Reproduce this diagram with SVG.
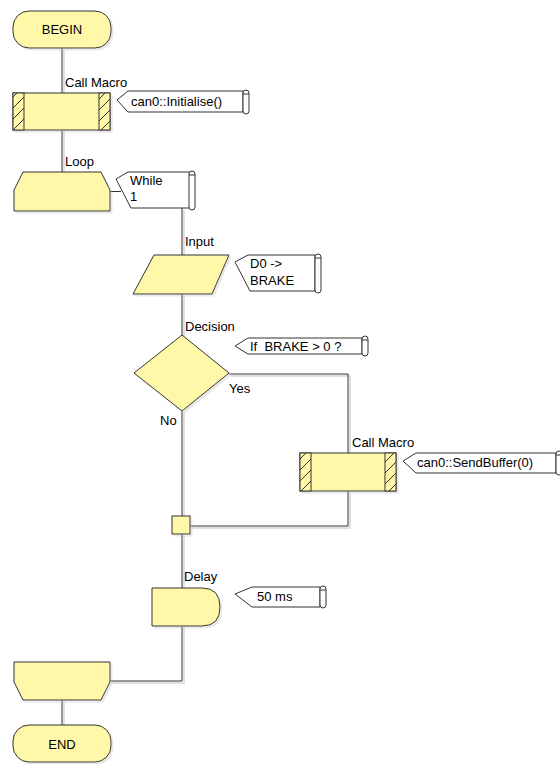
<svg xmlns="http://www.w3.org/2000/svg" width="560" height="764" viewBox="0 0 560 764">
<defs>
<pattern id="hatch" patternUnits="userSpaceOnUse" width="11" height="11" x="0" y="0">
<rect width="11" height="11" fill="#FFF8A8"/>
<path d="M0,11 L11,0" stroke="#333" stroke-width="1"/>
</pattern>
<filter id="sh" x="-10%" y="-10%" width="130%" height="130%">
<feOffset dx="2" dy="2" in="SourceAlpha" result="o"/>
<feColorMatrix in="o" type="matrix" values="0 0 0 0 0.5  0 0 0 0 0.5  0 0 0 0 0.5  0 0 0 0.35 0" result="c"/>
<feMerge><feMergeNode in="c"/><feMergeNode in="SourceGraphic"/></feMerge>
</filter>
</defs>
<style>
.n{fill:#FFF8A8;stroke:#333;stroke-width:1;filter:url(#sh)}
.h{fill:url(#hatch);stroke:#333;stroke-width:1}
.c{fill:#fff;stroke:#333;stroke-width:1}
.ln{fill:none;stroke:#333;stroke-width:1}
.lns{fill:none;stroke:#d6d6d6;stroke-width:1.5}
text{font-family:"Liberation Sans",Arial,sans-serif;font-size:13px;fill:#000}
.m{text-anchor:middle}
</style>
<rect width="560" height="764" fill="#fff"/>

<g id="connectors">
<g class="lns" transform="translate(2,2)">
<path d="M62,48 V93"/><path d="M62,130 V172"/><path d="M182,208 V255"/><path d="M182,294 V336"/>
<path d="M229,374 H348 V453"/><path d="M182,411 V516"/><path d="M348,491 V526 H190"/>
<path d="M182,534 V588"/><path d="M182,626 V681 H110"/><path d="M62,700 V725"/>
</g>
<path class="ln" d="M62,48 V93"/>
<path class="ln" d="M62,130 V172"/>
<path class="ln" d="M110,191.5 H121"/>
<path class="ln" d="M182,208 V255"/>
<path class="ln" d="M182,294 V336"/>
<path class="ln" d="M229,374 H348 V453"/>
<path class="ln" d="M182,411 V516"/>
<path class="ln" d="M348,491 V526 H190"/>
<path class="ln" d="M182,534 V588"/>
<path class="ln" d="M182,626 V681 H110"/>
<path class="ln" d="M62,700 V725"/>
</g>

<g id="begin">
<rect class="n" x="13" y="11" width="98" height="37" rx="16"/>
<text class="m" x="62" y="34">BEGIN</text>
</g>

<g id="callmacro1">
<text x="65" y="87">Call Macro</text>
<g filter="url(#sh)">
<rect class="n" x="13" y="93" width="97" height="37" style="filter:none"/>
<rect class="h" x="13" y="93" width="11" height="37"/>
<rect class="h" x="99" y="93" width="11" height="37"/>
</g>
</g>
<g id="comment1">
<path class="c" d="M117,100 L128,91 H243 V112 H128 Z"/>
<rect class="c" x="243" y="90" width="6" height="24" rx="3"/>
<path class="ln" d="M243,94 H249"/>
<text x="131" y="106">can0::Initialise()</text>
</g>

<g id="loopstart">
<text x="65" y="166">Loop</text>
<path class="n" d="M23,172 H101 L110,190 V211 H14 V190 Z"/>
</g>
<g id="comment2">
<path class="c" d="M116,179 L128,172 H190 V208 H131 Z"/>
<rect class="c" x="189" y="171" width="6" height="39" rx="3"/>
<path class="ln" d="M189,175 H195"/>
<text x="130" y="185">While</text>
<text x="130" y="201">1</text>
</g>

<g id="input">
<text x="185" y="246">Input</text>
<path class="n" d="M154,255 H229 L212,294 H133 Z"/>
</g>
<g id="comment3">
<path class="c" d="M235,262 L248,255 H315 V291 H250 Z"/>
<rect class="c" x="315" y="254" width="6" height="39" rx="3"/>
<path class="ln" d="M315,258 H321"/>
<text x="250" y="268">D0 -&gt;</text>
<text x="250" y="285">BRAKE</text>
</g>

<g id="decision">
<text x="185" y="331">Decision</text>
<path class="n" d="M182,335 L229,373 L182,411 L134,373 Z"/>
<text x="229" y="393">Yes</text>
<text x="160" y="425">No</text>
</g>
<g id="comment4">
<path class="c" d="M235,346 L248,338 H362 V354 H248 Z"/>
<rect class="c" x="362" y="336" width="6" height="20" rx="3"/>
<path class="ln" d="M362,340 H368"/>
<text x="250" y="351">If&#160; BRAKE &gt; 0 ?</text>
</g>

<g id="callmacro2">
<text x="352" y="447">Call Macro</text>
<g filter="url(#sh)">
<rect class="n" x="300" y="453" width="96" height="38" style="filter:none"/>
<rect class="h" x="300" y="453" width="11" height="38"/>
<rect class="h" x="385" y="453" width="11" height="38"/>
</g>
</g>
<g id="comment5">
<path class="c" d="M403,461 L416,453 H556 V473 H416 Z"/>
<rect class="c" x="556" y="451" width="6" height="24" rx="3"/>
<path class="ln" d="M556,455 H562"/>
<text x="417" y="467">can0::SendBuffer(0)</text>
</g>

<g id="junction">
<rect class="n" x="172" y="516" width="18" height="18"/>
</g>

<g id="delay">
<text x="184" y="581">Delay</text>
<path class="n" d="M152,588 H202 Q220,588 220,607 Q220,626 202,626 H152 Z"/>
</g>
<g id="comment6">
<path class="c" d="M235,594 L252,587 H320 V607 H252 Z"/>
<rect class="c" x="320" y="586" width="6" height="22" rx="3"/>
<path class="ln" d="M320,590 H326"/>
<text x="257" y="601">50 ms</text>
</g>

<g id="loopend">
<path class="n" d="M14,662 H110 V682 L101,700 H23 L14,682 Z"/>
</g>

<g id="end">
<rect class="n" x="13" y="725" width="98" height="37" rx="16"/>
<text class="m" x="62" y="749">END</text>
</g>
</svg>
